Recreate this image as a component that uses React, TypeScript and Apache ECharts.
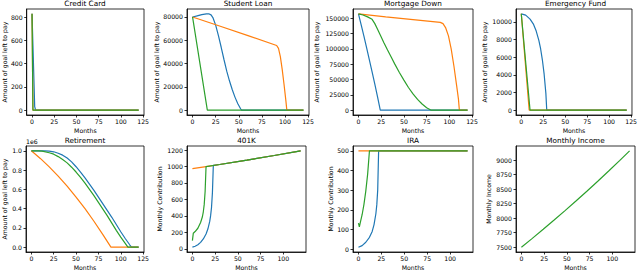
import React, { useEffect, useRef } from "react";
import * as echarts from "echarts";

type P = [number, number][];

// ---- Data (month, value) ----
const ccBlue: P = [[0, 830], [1, 560], [2, 290], [3, 30], [4, 0], [120, 0]];
const ccOrange: P = [[0, 830], [1, 0], [120, 0]];
const ccGreen: P = [[0, 830], [1, 0], [120, 0]];

const slBlue: P = [[0, 80000], [5, 81000], [10, 82000], [15, 82700], [18, 82600], [20, 81800], [22, 79500], [25, 73000], [28, 64000], [31, 54000], [34, 43500], [37, 33500], [40, 25000], [43, 17500], [46, 11000], [49, 5500], [52, 1200], [53, 0], [120, 0]];
const slOrange: P = [[0, 80000], [30, 72000], [60, 64000], [91, 55500], [93, 53000], [95, 46000], [97, 35000], [99, 22000], [101, 8000], [102, 0], [120, 0]];
const slGreen: P = [[0, 80000], [16, 0], [120, 0]];

const mdBlue: P = [[0, 157000], [3, 139000], [6, 120500], [9, 101500], [12, 82000], [15, 62500], [18, 42500], [21, 21500], [24, 0], [120, 0]];
const mdOrange: P = [[0, 157000], [30, 152000], [60, 147500], [90, 143000], [93, 141000], [96, 134000], [99, 121000], [102, 100000], [105, 72000], [108, 40000], [110, 18000], [111, 0], [120, 0]];
const mdGreen: P = [[0, 157000], [5, 155000], [10, 152000], [15, 148000], [18, 141000], [21, 132000], [24, 122500], [28, 110000], [32, 98000], [36, 86500], [40, 75000], [45, 61500], [50, 49000], [55, 37000], [60, 26500], [65, 17500], [70, 10000], [75, 4000], [80, 0], [120, 0]];

const efBlue: P = [[0, 10900], [5, 10750], [10, 10300], [14, 9700], [17, 8950], [20, 7900], [22, 6950], [24, 5700], [26, 4100], [28, 1900], [29, 0], [120, 0]];
const efOrange: P = [[0, 10900], [9, 0], [120, 0]];
const efGreen: P = [[0, 10900], [10, 0], [120, 0]];

const rtBlue: P = [[0, 1000000], [15, 1000000], [20, 997000], [25, 990000], [30, 975000], [35, 955000], [40, 925000], [45, 885000], [50, 835000], [55, 780000], [60, 720000], [65, 655000], [70, 590000], [75, 520000], [80, 450000], [85, 380000], [90, 310000], [95, 235000], [100, 160000], [105, 90000], [110, 25000], [112, 0], [120, 0]];
const rtOrange: P = [[0, 1000000], [10, 921000], [20, 833000], [30, 737000], [40, 633000], [50, 520000], [60, 400000], [70, 269000], [80, 131000], [89, 0], [120, 0]];
const rtGreen: P = [[0, 1000000], [8, 1000000], [12, 997000], [20, 980000], [25, 965000], [30, 940000], [35, 910000], [40, 875000], [45, 830000], [50, 780000], [55, 725000], [60, 665000], [65, 600000], [70, 535000], [75, 465000], [80, 395000], [85, 325000], [90, 250000], [95, 175000], [100, 105000], [105, 40000], [108, 0], [120, 0]];

const k4Blue: P = [[0, 20], [3, 32], [6, 50], [9, 78], [12, 120], [15, 180], [17, 240], [19, 330], [20, 400], [21, 500], [22, 680], [23, 1013], [30, 1025], [60, 1078], [90, 1134], [119, 1191]];
const k4Orange: P = [[0, 975], [15, 1000], [30, 1025], [60, 1078], [90, 1134], [119, 1191]];
const k4Green: P = [[0, 100], [1, 190], [3, 210], [6, 250], [9, 320], [11, 390], [12, 450], [13, 540], [14, 700], [15, 1000], [30, 1025], [60, 1078], [90, 1134], [119, 1191]];

const iraBlue: P = [[0, 10], [4, 18], [8, 35], [12, 60], [15, 90], [17, 125], [19, 180], [20, 225], [21, 300], [22, 500], [119, 500]];
const iraOrange: P = [[0, 500], [119, 500]];
const iraGreen: P = [[0, 132], [1, 113], [2, 135], [4, 175], [6, 228], [8, 295], [10, 380], [11, 440], [12, 500], [119, 500]];

const incGreen: P = [[0, 7500], [12, 7652], [24, 7808], [36, 7967], [48, 8130], [60, 8296], [72, 8464], [84, 8636], [96, 8812], [108, 8991], [119, 9160]];

// ---- Tick labels ----
const xTicksLong = [0, 25, 50, 75, 100, 125];
const xTicksShort = [0, 25, 50, 75, 100];
const ccTicks = [0, 200, 400, 600, 800];
const slTicks = [0, 20000, 40000, 60000, 80000];
const mdTicks = [0, 25000, 50000, 75000, 100000, 125000, 150000];
const efTicks = [0, 2000, 4000, 6000, 8000, 10000];
const rtTicks = [0, 200000, 400000, 600000, 800000, 1000000];
const k4Ticks = [0, 200, 400, 600, 800, 1000, 1200];
const iraTicks = [0, 100, 200, 300, 400, 500];
const incTicks = [7500, 7750, 8000, 8250, 8500, 8750, 9000];

const titles = ["Credit Card", "Student Loan", "Mortgage Down", "Emergency Fund", "Retirement", "401K", "IRA", "Monthly Income"];
const GOAL = "Amount of goal left to pay";
const CONTRIB = "Monthly Contribution";

const BLUE = "#1f77b4";
const ORANGE = "#ff7f0e";
const GREEN = "#2ca02c";
const FONT = "DejaVu Sans";

interface Panel {
  title: string;
  ylabel: string;
  lines: { data: P; color: string }[];
  xTicks: number[];
  yTicks: number[];
  grid: { left: number; top: number; width: number; height: number };
  nameGap: number;
  fmt?: (v: number) => string;
}

const ROW1 = 9;
const ROW2 = 146;
const H = 106;

const panels: Panel[] = [
  { title: titles[0], ylabel: GOAL, lines: [{ data: ccBlue, color: BLUE }, { data: ccOrange, color: ORANGE }, { data: ccGreen, color: GREEN }], xTicks: xTicksLong, yTicks: ccTicks, grid: { left: 26, top: ROW1, width: 118, height: H }, nameGap: 19 },
  { title: titles[1], ylabel: GOAL, lines: [{ data: slBlue, color: BLUE }, { data: slOrange, color: ORANGE }, { data: slGreen, color: GREEN }], xTicks: xTicksLong, yTicks: slTicks, grid: { left: 187, top: ROW1, width: 122, height: H }, nameGap: 28 },
  { title: titles[2], ylabel: GOAL, lines: [{ data: mdBlue, color: BLUE }, { data: mdOrange, color: ORANGE }, { data: mdGreen, color: GREEN }], xTicks: xTicksLong, yTicks: mdTicks, grid: { left: 353, top: ROW1, width: 120, height: H }, nameGap: 34 },
  { title: titles[3], ylabel: GOAL, lines: [{ data: efBlue, color: BLUE }, { data: efOrange, color: ORANGE }, { data: efGreen, color: GREEN }], xTicks: xTicksLong, yTicks: efTicks, grid: { left: 516, top: ROW1, width: 119, height: H }, nameGap: 29 },
  { title: titles[4], ylabel: GOAL, lines: [{ data: rtBlue, color: BLUE }, { data: rtOrange, color: ORANGE }, { data: rtGreen, color: GREEN }], xTicks: xTicksLong, yTicks: rtTicks, grid: { left: 26, top: ROW2, width: 118, height: H }, nameGap: 19, fmt: (v) => (v / 1e6).toFixed(1) },
  { title: titles[5], ylabel: CONTRIB, lines: [{ data: k4Blue, color: BLUE }, { data: k4Orange, color: ORANGE }, { data: k4Green, color: GREEN }], xTicks: xTicksShort, yTicks: k4Ticks, grid: { left: 187, top: ROW2, width: 119, height: H }, nameGap: 25 },
  { title: titles[6], ylabel: CONTRIB, lines: [{ data: iraBlue, color: BLUE }, { data: iraOrange, color: ORANGE }, { data: iraGreen, color: GREEN }], xTicks: xTicksShort, yTicks: iraTicks, grid: { left: 353, top: ROW2, width: 120, height: H }, nameGap: 19 },
  { title: titles[7], ylabel: "Monthly Income", lines: [{ data: incGreen, color: GREEN }], xTicks: xTicksShort, yTicks: incTicks, grid: { left: 516, top: ROW2, width: 119, height: H }, nameGap: 25 },
];

function extent(lines: { data: P }[], idx: 0 | 1): [number, number] {
  let lo = Infinity;
  let hi = -Infinity;
  for (const l of lines) for (const p of l.data) { lo = Math.min(lo, p[idx]); hi = Math.max(hi, p[idx]); }
  const pad = (hi - lo) * 0.05;
  return [lo - pad, hi + pad];
}

const textBase = { fontFamily: FONT, color: "#000" };

function buildOption(): any {
  const grid = panels.map((p) => ({ ...p.grid, show: true, borderColor: "#000", borderWidth: 0.8, backgroundColor: "transparent", containLabel: false }));
  const xAxis = panels.map((p, i) => {
    const [mn, mx] = extent(p.lines, 0);
    return {
      type: "value", gridIndex: i, min: mn, max: mx,
      name: "Months", nameLocation: "middle", nameGap: 12,
      nameTextStyle: { ...textBase, fontSize: 6.2 },
      axisLine: { show: true, onZero: false, lineStyle: { color: "#000", width: 0.8 } },
      axisTick: { show: true, length: 2.5, lineStyle: { color: "#000", width: 0.8 }, customValues: p.xTicks },
      axisLabel: { ...textBase, fontSize: 6.2, margin: 3, customValues: p.xTicks, formatter: (v: number) => String(v) },
      splitLine: { show: false },
    };
  });
  const yAxis = panels.map((p, i) => {
    const [mn, mx] = extent(p.lines, 1);
    return {
      type: "value", gridIndex: i, min: mn, max: mx,
      name: p.ylabel, nameLocation: "middle", nameGap: p.nameGap, nameRotate: 90,
      nameTextStyle: { ...textBase, fontSize: 6.2 },
      axisLine: { show: true, onZero: false, lineStyle: { color: "#000", width: 0.8 } },
      axisTick: { show: true, length: 2.5, lineStyle: { color: "#000", width: 0.8 }, customValues: p.yTicks },
      axisLabel: { ...textBase, fontSize: 6.2, margin: 4, customValues: p.yTicks, formatter: p.fmt ? p.fmt : (v: number) => String(v) },
      splitLine: { show: false },
    };
  });
  const series: any[] = [];
  panels.forEach((p, i) => {
    p.lines.forEach((l, j) => {
      series.push({
        type: "line", xAxisIndex: i, yAxisIndex: i, data: l.data,
        showSymbol: false, symbol: "none", silent: true, z: 2 + j,
        lineStyle: { color: l.color, width: 1.2 }, itemStyle: { color: l.color },
      });
    });
  });
  const title = panels.map((p, i) => ({
    text: p.title, left: p.grid.left + p.grid.width / 2, top: i < 4 ? 0 : 137,
    textAlign: "center", padding: 0,
    textStyle: { ...textBase, fontSize: 7.3, fontWeight: "normal" },
  }));
  return {
    animation: false,
    title,
    grid, xAxis, yAxis, series,
    graphic: [
      { type: "text", x: 26, y: 141, style: { text: "1e6", fill: "#000", font: `6.2px "${FONT}"`, align: "left", verticalAlign: "middle" } },
    ],
  };
}

export default function App() {
  const ref = useRef<HTMLDivElement>(null);
  useEffect(() => {
    if (!ref.current) return;
    const chart = echarts.init(ref.current, undefined, { renderer: "svg" });
    chart.setOption(buildOption());
    return () => chart.dispose();
  }, []);
  return <div ref={ref} style={{ position: "fixed", left: 0, top: 0, width: 640, height: 272, background: "#fff" }} />;
}
